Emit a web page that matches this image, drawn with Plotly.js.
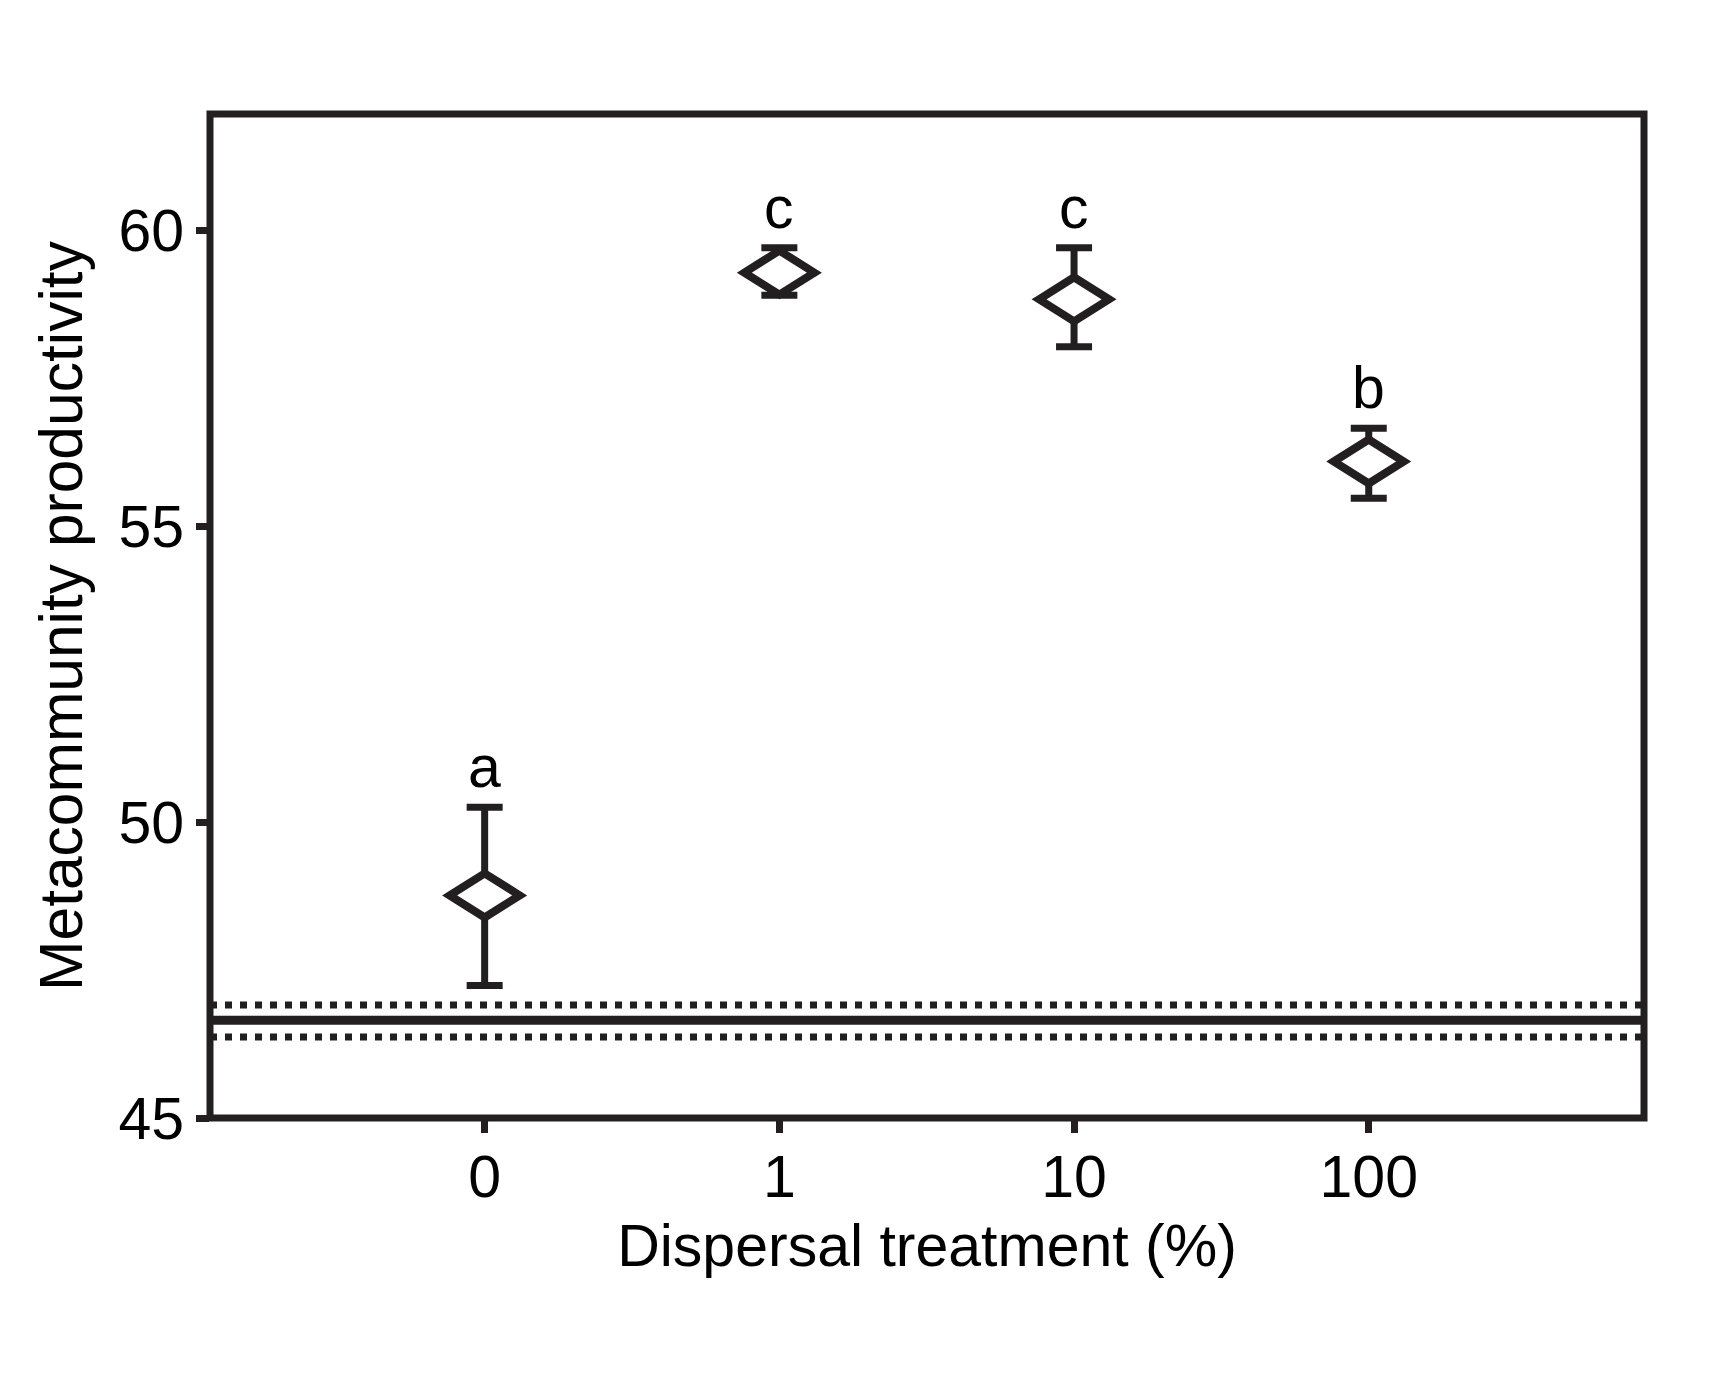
<!DOCTYPE html>
<html>
<head>
<meta charset="utf-8">
<script src="https://cdn.plot.ly/plotly-3.0.1.min.js"></script>
<style>
  html, body { margin: 0; padding: 0; background: #ffffff; }
  #chart { width: 1716px; height: 1374px; }
</style>
</head>
<body>
<div id="chart"></div>
<script>
// ---- data ----
const categories = ['0', '1', '10', '100'];            // dispersal treatment (%)
const meanProductivity = [48.76, 59.28, 58.83, 56.09];
const errUpper = [1.49, 0.42, 0.87, 0.56];
const errLower = [1.52, 0.38, 0.80, 0.62];
const groupLetters = ['a', 'c', 'c', 'b'];
const controlMean = [46.65];
const controlCI = [46.37, 46.91];
const yTicks = [45, 50, 55, 60];

// ---- style ----
const INK = '#231f20';
const FONT = '"Liberation Sans", Arial, Helvetica, sans-serif';
const FS = 58;
const DIAMOND_HW = 35;  // px half width of diamond
const DIAMOND_HH = 22;  // px half height of diamond

const xIdx = categories.map((c, i) => i);

const trace = {
  type: 'scatter',
  mode: 'markers',
  x: xIdx,
  y: meanProductivity,
  text: categories,
  marker: { size: 1, color: 'rgba(0,0,0,0)' },
  error_y: {
    type: 'data', symmetric: false,
    array: errUpper, arrayminus: errLower,
    color: INK, thickness: 7, width: 18
  },
  cliponaxis: false,
  hoverinfo: 'text+y'
};

const diamondPath = `M ${-DIAMOND_HW},0 L 0,${DIAMOND_HH} L ${DIAMOND_HW},0 L 0,${-DIAMOND_HH} Z`;

const shapes = [];
// control mean (solid) and its interval (dotted)
controlMean.forEach(v => shapes.push({
  type: 'line', xref: 'paper', x0: 0, x1: 1, yref: 'y', y0: v, y1: v,
  line: { color: INK, width: 9 }, layer: 'below'
}));
controlCI.forEach(v => shapes.push({
  type: 'line', xref: 'paper', x0: 0, x1: 1, yref: 'y', y0: v, y1: v,
  line: { color: INK, width: 7, dash: '7px,8px' }, layer: 'below'
}));
// open diamonds for treatment means
meanProductivity.forEach((v, i) => shapes.push({
  type: 'path', xref: 'x', yref: 'y',
  xsizemode: 'pixel', ysizemode: 'pixel',
  xanchor: xIdx[i], yanchor: v,
  path: diamondPath,
  fillcolor: '#ffffff',
  line: { color: INK, width: 8 },
  layer: 'above'
}));
// frame
shapes.push({
  type: 'rect', xref: 'paper', yref: 'paper', x0: 0, x1: 1, y0: 0, y1: 1,
  line: { color: INK, width: 7 }, fillcolor: 'rgba(0,0,0,0)', layer: 'above'
});

const annotations = groupLetters.map((t, i) => ({
  x: xIdx[i], y: meanProductivity[i] + errUpper[i],
  xref: 'x', yref: 'y',
  text: t, showarrow: false,
  yanchor: 'bottom', xanchor: 'center', yshift: 5,
  font: { family: FONT, size: 59, color: '#000' }
}));

const layout = {
  width: 1716, height: 1374,
  margin: { l: 210, r: 72, t: 114, b: 256, pad: 0 },
  paper_bgcolor: '#ffffff', plot_bgcolor: '#ffffff',
  showlegend: false,
  font: { family: FONT, size: FS, color: '#000' },
  xaxis: {
    range: [-0.932, 3.934],
    tickmode: 'array', tickvals: xIdx, ticktext: categories,
    ticks: 'outside', ticklen: 14, tickwidth: 7, tickcolor: INK,
    ticklabelstandoff: -7,
    showgrid: false, zeroline: false, showline: false,
    tickfont: { family: FONT, size: 59, color: '#000' },
    title: { text: 'Dispersal treatment (%)', standoff: 15,
             font: { family: FONT, size: 59, color: '#000' } },
    automargin: false, fixedrange: true
  },
  yaxis: {
    range: [45, 61.96],
    tickmode: 'array', tickvals: yTicks, ticktext: yTicks.map(String),
    ticks: 'outside', ticklen: 13, tickwidth: 7, tickcolor: INK,
    showgrid: false, zeroline: false, showline: false,
    tickfont: { family: FONT, size: 59, color: '#000' },
    title: { text: 'Metacommunity productivity\u00a0\u00a0', standoff: 16,
             font: { family: FONT, size: 60.5, color: '#000' } },
    automargin: false, fixedrange: true
  },
  shapes: shapes,
  annotations: annotations
};

Plotly.newPlot('chart', [trace], layout, { displayModeBar: false, staticPlot: true });
</script>
</body>
</html>
